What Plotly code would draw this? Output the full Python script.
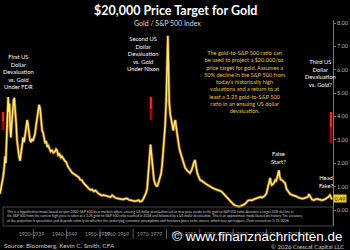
import plotly.graph_objects as go

# ---------------- data ----------------
years = [
    1929.5, 1929.8, 1930.1, 1930.4, 1930.7, 1931.0, 1931.2, 1931.4, 1931.6, 1931.8,
    1931.9, 1932.1, 1932.3, 1932.5, 1932.7, 1932.9, 1933.1, 1933.3, 1933.5, 1933.7,
    1933.9, 1934.1, 1934.3, 1934.5, 1934.8, 1935.1, 1935.4, 1935.7, 1936.0, 1936.3,
    1936.6, 1936.9, 1937.2, 1937.5, 1937.7, 1938.0, 1938.3, 1938.6, 1938.9, 1939.2,
    1939.5, 1939.8, 1940.1, 1940.4, 1940.7, 1941.0, 1941.3, 1941.6, 1941.9, 1942.2,
    1942.5, 1942.8, 1943.1, 1943.4, 1943.7, 1944.0, 1944.4, 1944.8, 1945.2, 1945.7,
    1946.0, 1946.3, 1946.6, 1947.0, 1947.4, 1947.7, 1948.1, 1948.6, 1949.0, 1949.5,
    1950.0, 1950.4, 1950.7, 1951.2, 1951.7, 1952.2, 1952.7, 1953.1, 1953.6, 1954.1,
    1954.6, 1955.1, 1955.6, 1956.1, 1956.6, 1957.1, 1957.6, 1958.0, 1958.5, 1959.0,
    1959.5, 1960.0, 1960.5, 1961.0, 1961.5, 1962.0, 1962.5, 1963.0, 1963.5, 1964.2,
    1965.0, 1965.7, 1966.3, 1966.8, 1967.4, 1968.0, 1968.6, 1969.2, 1969.8, 1970.3,
    1970.7, 1971.2, 1971.6, 1972.0, 1972.4, 1972.8, 1973.1, 1973.4, 1973.6, 1973.8,
    1974.0, 1974.3, 1974.5, 1974.8, 1975.2, 1975.7, 1976.0, 1976.3, 1976.6, 1976.9,
    1977.2, 1977.5, 1977.8, 1978.1, 1978.4, 1978.7, 1978.9, 1979.1, 1979.3, 1979.6,
    1979.9, 1980.2, 1980.5, 1980.8, 1981.1, 1981.4, 1981.7, 1981.9, 1982.2, 1982.5,
    1982.9, 1983.2, 1983.6, 1984.0, 1984.5, 1985.0, 1985.4, 1985.9, 1986.3, 1986.6,
    1986.9, 1987.2, 1987.5, 1987.9, 1988.4, 1988.9, 1989.4, 1989.8, 1990.3, 1990.8,
    1991.3, 1992.0, 1992.7, 1993.4, 1994.0, 1994.6, 1995.1, 1995.6, 1996.2, 1996.7,
    1997.2, 1997.7, 1998.2, 1998.7, 1999.3, 1999.8, 2000.4, 2001.0, 2001.5, 2002.0,
    2002.5, 2003.1, 2003.6, 2004.1, 2004.6, 2005.1, 2005.6, 2006.2, 2006.6, 2006.9,
    2007.4, 2007.9, 2008.2, 2008.6, 2008.8, 2009.0, 2009.2, 2009.5, 2009.8, 2010.1,
    2010.5, 2010.8, 2011.0, 2011.3, 2011.6, 2011.8, 2012.1, 2012.5, 2012.9, 2013.4,
    2013.8, 2014.3, 2014.8, 2015.2, 2015.7, 2016.2, 2016.7, 2017.2, 2017.8, 2018.4,
    2019.0, 2019.6, 2020.1, 2020.4, 2020.7, 2021.0, 2021.3, 2021.8, 2022.3, 2022.8,
    2023.2, 2023.7, 2024.2, 2024.7, 2025.2, 2025.7, 2026.1, 2026.6, 2027.0, 2027.2,
]
ratio = [
    0.70, 0.95, 1.05, 1.40, 1.75, 2.30, 2.00, 3.10, 3.60, 4.40,
    4.83, 4.20, 4.55, 3.50, 3.10, 3.60, 4.10, 4.40, 4.70, 4.80,
    4.50, 4.10, 3.60, 3.00, 2.60, 2.30, 2.10, 2.50, 2.90, 3.10,
    2.90, 3.30, 3.60, 3.85, 3.70, 3.30, 3.00, 2.90, 3.05, 2.95,
    3.10, 3.25, 3.60, 3.90, 4.20, 4.50, 4.35, 3.80, 3.40, 3.30,
    3.00, 2.85, 2.95, 2.70, 2.75, 2.60, 2.50, 2.55, 2.45, 2.50,
    2.60, 2.55, 2.35, 2.40, 2.25, 2.30, 2.20, 2.10, 2.05, 1.85,
    1.75, 1.65, 1.60, 1.55, 1.50, 1.45, 1.40, 1.30, 1.28, 1.15,
    1.05, 1.00, 0.92, 0.86, 0.88, 0.80, 0.84, 0.77, 0.70, 0.66,
    0.62, 0.64, 0.62, 0.58, 0.55, 0.55, 0.63, 0.56, 0.52, 0.49,
    0.47, 0.45, 0.48, 0.50, 0.44, 0.42, 0.40, 0.38, 0.40, 0.42,
    0.36, 0.38, 0.45, 0.55, 0.70, 0.90, 1.40, 1.80, 2.30, 2.80,
    2.50, 1.90, 1.70, 1.30, 1.10, 1.00, 1.10, 1.25, 1.40, 1.55,
    1.90, 2.40, 2.90, 3.60, 4.60, 6.20, 7.45, 6.00, 4.60, 4.10,
    3.85, 3.60, 3.40, 3.70, 3.85, 3.50, 3.10, 3.00, 2.70, 2.50,
    2.30, 2.14, 1.95, 1.80, 1.70, 1.62, 1.58, 1.70, 1.95, 2.05,
    2.14, 1.80, 1.60, 1.45, 1.28, 1.25, 1.18, 1.15, 1.10, 1.05,
    1.00, 0.95, 0.90, 0.86, 0.85, 0.80, 0.73, 0.65, 0.55, 0.45,
    0.38, 0.30, 0.24, 0.20, 0.15, 0.14, 0.17, 0.21, 0.25, 0.32,
    0.40, 0.43, 0.41, 0.45, 0.48, 0.50, 0.52, 0.56, 0.53, 0.56,
    0.60, 0.70, 0.86, 1.05, 1.20, 1.37, 1.20, 1.07, 1.10, 1.15,
    1.28, 1.25, 1.35, 1.50, 1.70, 1.45, 1.30, 1.28, 1.20, 1.15,
    0.90, 0.77, 0.70, 0.66, 0.64, 0.62, 0.58, 0.54, 0.50, 0.48,
    0.50, 0.52, 0.56, 0.68, 0.60, 0.52, 0.45, 0.42, 0.45, 0.48,
    0.46, 0.43, 0.42, 0.44, 0.46, 0.52, 0.55, 0.64, 0.50, 0.45,
]
decade_labels = ["1930-1939", "1940-1949", "1950-1959", "1960-1969", "1970-1979",
                 "1980-1989", "1990-1999", "2000-2009", "2010-2019", "2020-2029"]
y_ticks = [0, 1, 2, 3, 4, 5, 6, 7, 8]
last_value_label = "0.49"

# red "up" arrows: (year, low value, high value)
arrow_x = [1930.4, 1973.9, 2026.9]
arrow_lo = [3.42, 3.85, 2.87]
arrow_hi = [4.19, 4.83, 4.19]

# ---------------- geometry helpers ----------------
W, H = 350, 250
ML, MR, MT, MB = 0, 17, 20, 24
PW, PH = W - ML - MR, H - MT - MB
Y_RANGE = [-16 / 23.375, (PH - 16) / 23.375]
X_RANGE = [1929.5, 2027.5]


def px(x):
    return (x - ML) / PW


def py(y):
    return (H - MB - y) / PH


FONT = "Lato"

fig = go.Figure()
fig.add_trace(go.Scatter(x=years, y=ratio, mode="lines",
                         line=dict(color="rgba(225,140,25,0.6)", width=3.0),
                         hoverinfo="skip"))
fig.add_trace(go.Scatter(x=years, y=ratio, mode="lines",
                         line=dict(color="#FFE878", width=1.5)))

shapes = []
for xa, lo, hi in zip(arrow_x, arrow_lo, arrow_hi):
    shapes.append(dict(type="line", xref="x", yref="y", x0=xa, x1=xa, y0=lo, y1=hi,
                       line=dict(color="rgba(190,0,0,0.35)", width=4.5)))
    shapes.append(dict(type="line", xref="x", yref="y", x0=xa, x1=xa, y0=lo, y1=hi,
                       line=dict(color="#A01010", width=1.8)))
    shapes.append(dict(type="line", xref="x", yref="y", x0=xa, x1=xa,
                       y0=lo + (hi - lo) * 0.5, y1=hi,
                       line=dict(color="#FF3030", width=1.6)))

# footnote box
shapes.append(dict(type="rect", xref="paper", yref="paper",
                   x0=px(3), x1=px(333), y0=py(226), y1=py(207),
                   line=dict(color="#5a5a5a", width=0.8), fillcolor="rgba(0,0,0,0)"))
# decade separators
n = len(decade_labels)
for i in range(1, n):
    shapes.append(dict(type="line", xref="paper", yref="paper",
                       x0=i / n, x1=i / n, y0=py(239), y1=py(229),
                       line=dict(color="#5a5a5a", width=1)))

ann = []


def text_at(text, x, y, size, color, anchor="center", family=FONT, align="center", **kw):
    font = dict(family=family, size=size, color=color)
    font.update(kw.pop("font_extra", {}))
    ann.append(dict(text=text, x=px(x), y=py(y), xref="paper", yref="paper", showarrow=False,
                    align=align, xanchor=anchor, yanchor="middle", font=font, **kw))


text_at("<b>$20,000 Price Target for Gold</b>", 175, 10.5, 12.5, "white")
text_at("Gold / S&P 500 Index", 167, 23, 7, "#dddddd")

text_at("First US<br>Dollar<br>Devaluation<br>vs. Gold<br>Under FDR", 18, 71, 5.8, "white")
text_at("Second US<br>Dollar<br>Devaluation<br>vs. Gold<br>Under Nixon", 143, 53, 5.8, "white")
text_at("Third US<br>Dollar<br>Devaluation<br>vs. Gold?", 320, 73, 5.8, "white")
text_at("False<br>Start?", 278, 157.5, 5.8, "white")
text_at("Head<br>Fake?", 326, 181.5, 5.8, "white")
text_at("The gold-to-S&P 500 ratio can<br>be used to project a $20,000/oz.<br>"
        "price target for gold. Assumes a<br>50% decline in the S&P 500 from<br>"
        "today's historically high<br>valuations and a return to at<br>"
        "least a 3.25 gold-to-S&P 500<br>ratio in an ensuing US dollar<br>devaluation.",
        245, 81, 5.6, "#E8C24A")

foot = ("This is a hypothetical model based on past 2000-S&P 500 bear markets where ensuing US dollar "
        "devaluation led to new price peaks in the gold to S&P 500 ratio. Assumes a target 50% decline in<br>"
        "the S&P 500 from the current high price is taken at a 3.25 gold-to-S&P 500 ratio reached in 2028 "
        "and followed by a US dollar devaluation. This is an approximate model based on history. The accuracy<br>"
        "of the projection is speculative and depends entirely on whether the underlying economic assumptions "
        "and forecasts prove to be correct, which may not happen. Chart created on 1/31/2026")
text_at(foot, 5, 216.5, 3.4, "#cfcfcf", anchor="left", align="left")

for i, d in enumerate(decade_labels):
    ann.append(dict(text=d, x=(i + 0.5) / n, y=py(234), xref="paper", yref="paper",
                    yanchor="middle", showarrow=False,
                    font=dict(family=FONT, size=5, color="#9a9a9a")))

text_at("Source: Bloomberg, Kevin C. Smith, CFA", 2, 245.5, 6.3, "#c8c8c8", anchor="left")
text_at("© 2026 Crescat Capital LLC", 346, 246, 6, "#c8c8c8", anchor="right")
text_at("© www.finanznachrichten.de", 257, 236, 13.5, "white", family="Liberation Sans",
        font_extra=dict(shadow="0px 0px 2px #000"))

ann.append(dict(text=last_value_label, x=1, y=ratio[-2], xref="paper", yref="y",
                xanchor="left", yanchor="middle", showarrow=False, bgcolor="#F2CF1E",
                borderpad=0.5, font=dict(family=FONT, size=5.5, color="#222")))

fig.update_layout(
    width=W, height=H, margin=dict(l=ML, r=MR, t=MT, b=MB),
    paper_bgcolor="black", plot_bgcolor="black", showlegend=False,
    xaxis=dict(range=X_RANGE, visible=False),
    yaxis=dict(range=Y_RANGE, side="right", tickvals=y_ticks, tickformat=".2f",
               showgrid=False, zeroline=False, showline=True, linecolor="#777",
               linewidth=0.8, ticks="outside", ticklen=2, tickcolor="#777",
               tickfont=dict(family=FONT, size=5.5, color="#bbbbbb")),
    shapes=shapes, annotations=ann,
)

fig.write_html("out.html")
